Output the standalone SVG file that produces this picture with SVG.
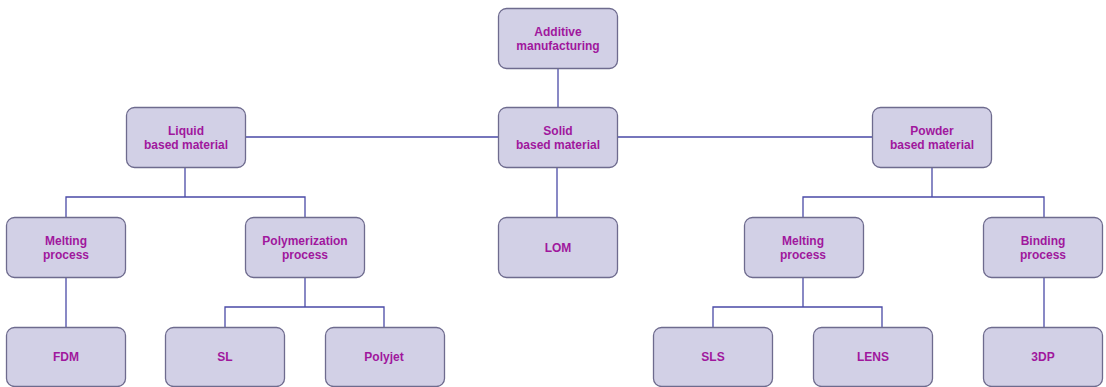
<svg xmlns="http://www.w3.org/2000/svg" width="1106" height="387" viewBox="0 0 1106 387">
<style>
.n rect{fill:#d2d0e6;stroke:#6e6b8e;stroke-width:1.3}
.n text{font-family:"Liberation Sans",Arial,sans-serif;font-weight:bold;font-size:12px;fill:#a0179d;text-anchor:middle}
#connectors path{fill:none;stroke:#4a4aa6;stroke-width:1.3}
</style>
<rect width="1106" height="387" fill="#ffffff"/>
<g id="connectors">
<path d="M558 68V107"/>
<path d="M245 137H498M617 137H873"/>
<path d="M557 167V217"/>
<path d="M185 167V197M66 217V197H305V217"/>
<path d="M66 277V327"/>
<path d="M305 277V307M225 327V307H384V327"/>
<path d="M932 167V197M803 217V197H1044V217"/>
<path d="M803 277V307M713 327V307H882V327"/>
<path d="M1044 277V327"/>
</g>
<g id="n-additive" class="n"><rect x="498.5" y="8.5" width="119" height="60" rx="8"/><text x="558" y="36">Additive</text><text x="558" y="50">manufacturing</text></g>
<g id="n-liquid" class="n"><rect x="126.5" y="107.5" width="119" height="60" rx="8"/><text x="186" y="135">Liquid</text><text x="186" y="149">based material</text></g>
<g id="n-solid" class="n"><rect x="498.5" y="107.5" width="119" height="60" rx="8"/><text x="558" y="135">Solid</text><text x="558" y="149">based material</text></g>
<g id="n-powder" class="n"><rect x="872.5" y="107.5" width="119" height="60" rx="8"/><text x="932" y="135">Powder</text><text x="932" y="149">based material</text></g>
<g id="n-melting1" class="n"><rect x="6.5" y="217.5" width="119" height="60" rx="8"/><text x="66" y="245">Melting</text><text x="66" y="259">process</text></g>
<g id="n-polymerization" class="n"><rect x="245.5" y="217.5" width="119" height="60" rx="8"/><text x="305" y="245">Polymerization</text><text x="305" y="259">process</text></g>
<g id="n-lom" class="n"><rect x="498.5" y="217.5" width="119" height="60" rx="8"/><text x="558" y="252">LOM</text></g>
<g id="n-melting2" class="n"><rect x="744.5" y="217.5" width="119" height="60" rx="8"/><text x="803" y="245">Melting</text><text x="803" y="259">process</text></g>
<g id="n-binding" class="n"><rect x="983.5" y="217.5" width="119" height="60" rx="8"/><text x="1043" y="245">Binding</text><text x="1043" y="259">process</text></g>
<g id="n-fdm" class="n"><rect x="6.5" y="327.5" width="119" height="59" rx="8"/><text x="66" y="361">FDM</text></g>
<g id="n-sl" class="n"><rect x="165.5" y="327.5" width="119" height="59" rx="8"/><text x="225" y="361">SL</text></g>
<g id="n-polyjet" class="n"><rect x="325.5" y="327.5" width="119" height="59" rx="8"/><text x="384" y="361">Polyjet</text></g>
<g id="n-sls" class="n"><rect x="653.5" y="327.5" width="119" height="59" rx="8"/><text x="713" y="361">SLS</text></g>
<g id="n-lens" class="n"><rect x="813.5" y="327.5" width="119" height="59" rx="8"/><text x="873" y="361">LENS</text></g>
<g id="n-3dp" class="n"><rect x="983.5" y="327.5" width="119" height="59" rx="8"/><text x="1043" y="361">3DP</text></g>
</svg>
